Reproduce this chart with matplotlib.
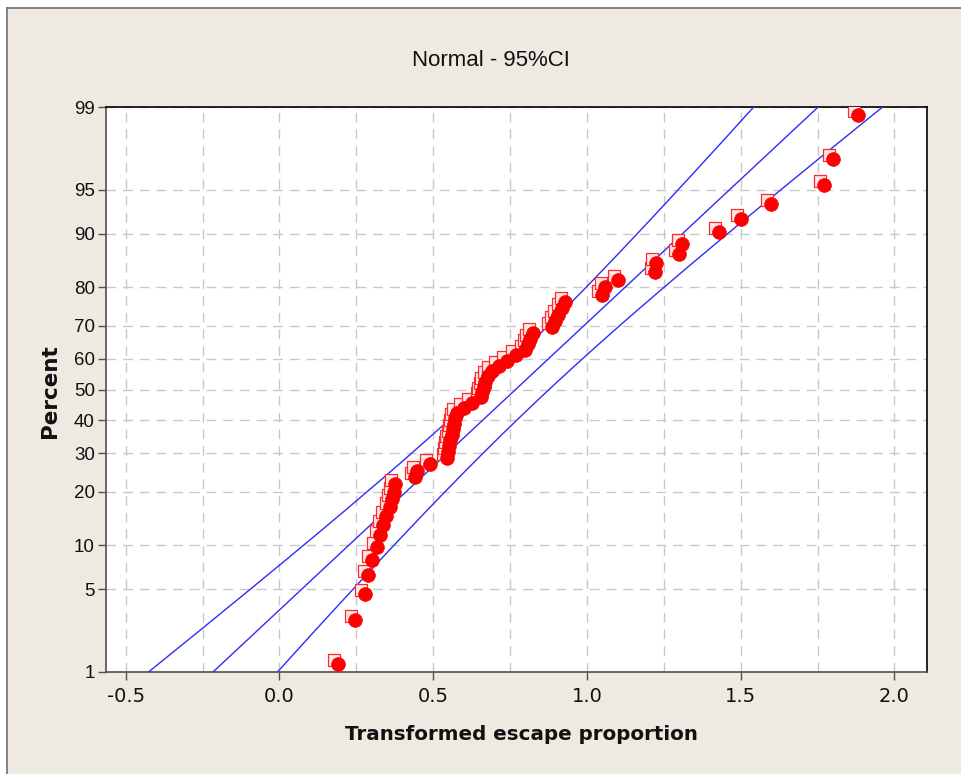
import statistics
import numpy as np
import matplotlib
matplotlib.use("Agg")
import matplotlib.pyplot as plt
import matplotlib.transforms as mtransforms
from matplotlib.patches import Rectangle
from matplotlib.lines import Line2D

# ---------------------------------------------------------------
# data: transformed escape proportions (sorted)
# ---------------------------------------------------------------

escape = [0.19, 0.245, 0.278, 0.288, 0.30, 0.317, 0.327, 0.337, 0.346,
          0.36, 0.367, 0.372, 0.377, 0.442, 0.446, 0.49,
          0.545, 0.548, 0.552, 0.556, 0.56, 0.565, 0.568, 0.572, 0.577,
          0.60, 0.625, 0.655, 0.66, 0.665, 0.67, 0.677, 0.69, 0.715, 0.74,
          0.77, 0.80, 0.807, 0.815, 0.825, 0.885, 0.895, 0.905, 0.92, 0.93,
          1.05, 1.06, 1.10, 1.22, 1.225, 1.30, 1.31, 1.43, 1.50, 1.60,
          1.77, 1.80, 1.88]

# normal fit reported with the plot
fit_mean = 0.768
fit_sd = 0.423
conf = 0.95

pct_ticks = [1, 5, 10, 20, 30, 40, 50, 60, 70, 80, 90, 95, 99]
x_ticks = [-0.5, 0.0, 0.5, 1.0, 1.5, 2.0]

# ---------------------------------------------------------------
# plotting positions + CI bands
# ---------------------------------------------------------------

nd = statistics.NormalDist()
ppf = np.vectorize(lambda q: nd.inv_cdf(min(max(q, 1e-9), 1 - 1e-9)), otypes=[float])
cdf = np.vectorize(nd.cdf, otypes=[float])

x = np.sort(np.array(escape))
n = len(x)
ranks = np.arange(1, n + 1)
pct = (ranks - 0.3) / (n + 0.4) * 100      # median ranks (Benard)

z = np.linspace(ppf(0.01), ppf(0.99), 300)
zc = nd.inv_cdf(0.5 + conf / 2)
half = zc * fit_sd * np.sqrt((1 + z ** 2 / 2) / n)
fit_x = fit_mean + z * fit_sd
line_pct = cdf(z) * 100

# ---------------------------------------------------------------
# figure
# ---------------------------------------------------------------

bg = "#EEEAE1"
sans = ["Liberation Sans", "DejaVu Sans"]

fig = plt.figure(figsize=(9.62, 7.74), dpi=100, facecolor="white")

# graph region: beige panel, grey frame on top and left only
x0, y0 = 7.5 / 962, 1 - 8 / 774
fig.add_artist(Rectangle((x0, 0), 1 - x0, y0, transform=fig.transFigure,
                         facecolor=bg, edgecolor="none", zorder=-10))
fig.add_artist(Line2D([x0, 1], [y0, y0], transform=fig.transFigure,
                      color="#707070", lw=1.2))
fig.add_artist(Line2D([x0, x0], [0, y0], transform=fig.transFigure,
                      color="#707070", lw=1.2))

ax = fig.add_axes([106 / 962, 1 - 672 / 774, (927 - 106) / 962, (672 - 107) / 774])
ax.set_facecolor("white")

ax.set_yscale("function", functions=(lambda p: ppf(np.asarray(p, dtype=float) / 100.0),
                                     lambda zz: cdf(np.asarray(zz, dtype=float)) * 100.0))

# fitted line and CI bands
for xs in (fit_x, fit_x - half, fit_x + half):
    ax.plot(xs, line_pct, color="#2D2DF8", lw=1.0, zorder=3)

# points: outlined square with a filled circle on top
sq_tr = mtransforms.offset_copy(ax.transData, fig=fig, x=-4, y=4, units="dots")
ax.scatter(x, pct, marker="s", s=70, facecolor="#FFE8E8", edgecolor="#FF2A2A",
           linewidth=0.9, transform=sq_tr, zorder=4)
ax.scatter(x, pct, marker="o", s=98, color="#FF0000", edgecolor="#F00000",
           linewidth=0.5, zorder=5)

ax.set_xlim(-0.564, 2.106)
ax.set_ylim(1, 99)

ax.set_xticks(x_ticks)
ax.set_xticklabels([f"{v:.1f}" for v in x_ticks])
ax.set_xticks(np.arange(-0.5, 2.01, 0.25), minor=True)
ax.set_yticks(pct_ticks)
ax.set_yticklabels([str(v) for v in pct_ticks], family=sans, fontsize=13.5)
ax.yaxis.set_minor_locator(matplotlib.ticker.NullLocator())

ax.grid(True, which="major", axis="y", color="#C8C8C8", lw=1.0, ls=(0, (7, 5)))
ax.grid(True, which="both", axis="x", color="#C8C8C8", lw=1.0, ls=(0, (7, 5)))
ax.set_axisbelow(True)

ax.tick_params(axis="both", which="major", direction="out", length=6, width=1,
               color="#505050", pad=3)
ax.tick_params(axis="x", which="minor", length=0)
ax.tick_params(axis="x", labelsize=14, labelcolor="#111111", pad=5)
ax.tick_params(axis="y", labelcolor="#111111", pad=2)

for side in ("left", "bottom"):
    ax.spines[side].set_color("#505050")
    ax.spines[side].set_linewidth(1.2)
for side in ("top", "right"):
    ax.spines[side].set_color("#000000")
    ax.spines[side].set_linewidth(1.2)

fig.text(491 / 962, 1 - 60 / 774, "Normal - 95%CI", ha="center", va="center",
         fontsize=16, color="#111111", family=sans)
fig.text(521 / 962, 1 - 735 / 774, "Transformed escape proportion", ha="center",
         va="center", fontsize=14.3, fontweight="bold", color="#111111")
fig.text(50 / 962, 1 - 391 / 774, "Percent", ha="center", va="center",
         rotation=90, fontsize=15.5, fontweight="bold", color="#111111")

fig.savefig("out.png", dpi=100, facecolor="white")
